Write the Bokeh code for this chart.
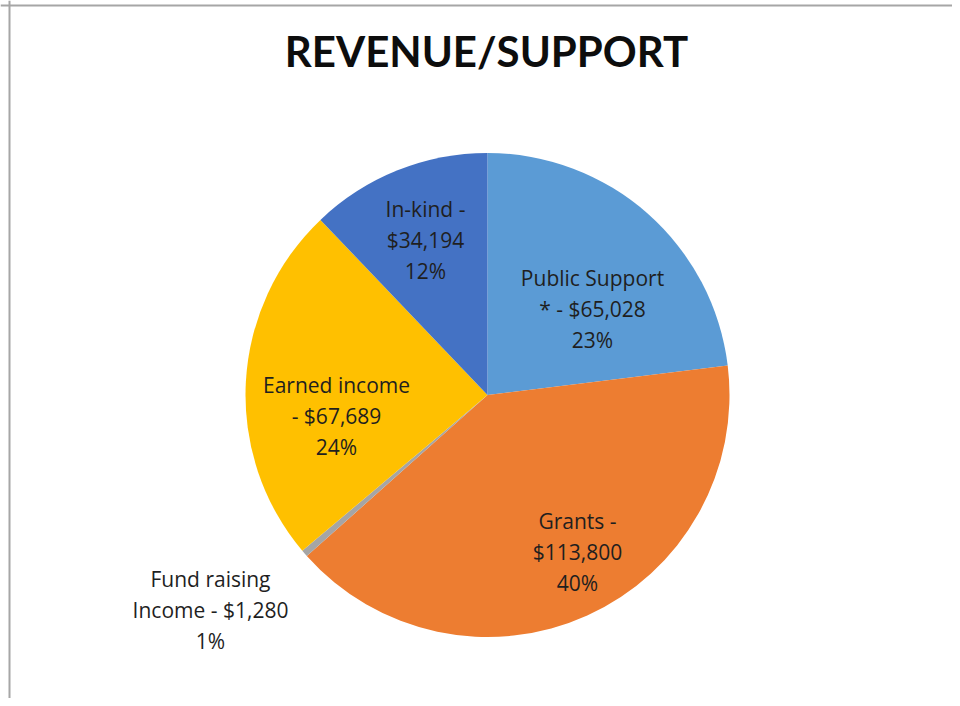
import math
from bokeh.plotting import figure
from bokeh.models import ColumnDataSource, Range1d, Span
from bokeh.core.properties import value
from bokeh.embed import file_html
from bokeh.resources import INLINE

# ---- data (clockwise from 12 o'clock) ----
categories = ["Public Support *", "Grants", "Fund raising Income", "Earned income", "In-kind"]
amounts = [65028, 113800, 1280, 67689, 34194]
pct_labels = ["23%", "40%", "1%", "24%", "12%"]
label_line1 = ["Public Support", "Grants -", "Fund raising", "Earned income", "In-kind -"]
label_line2 = ["* - $65,028", "$113,800", "Income - $1,280", "- $67,689", "$34,194"]
colors = ["#5B9BD5", "#ED7D31", "#A5A5A5", "#FFC000", "#4472C4"]

# ---- layout (pixel-like data space) ----
W, H = 952, 698
cx, cy, R = 487, 303.5, 242
# label centres, relative to pie centre (dx, dy up)
label_offsets = [(105, 86), (90, -157), (-277, -215), (-151, -21), (-62, 155)]
LINE = 31
TEXT_COLOR = "#1f1f1f"

total = float(sum(amounts))
starts, ends = [], []
acc = 0.0
for a in amounts:
    starts.append(math.pi / 2 - 2 * math.pi * acc / total)
    acc += a
    ends.append(math.pi / 2 - 2 * math.pi * acc / total)

src = ColumnDataSource(dict(
    x=[cx] * len(amounts), y=[cy] * len(amounts),
    start=starts, end=ends, color=colors, cat=categories, amt=amounts,
))

p = figure(width=W, height=H, output_backend="svg", toolbar_location=None,
           x_range=Range1d(0, W), y_range=Range1d(0, H),
           min_border=0, outline_line_color=None)
p.axis.visible = False
p.xgrid.visible = False
p.ygrid.visible = False
p.background_fill_color = "white"
p.border_fill_color = "white"

p.wedge(x="x", y="y", radius=R, start_angle="start", end_angle="end",
        direction="clock", fill_color="color", line_color=None, source=src)

# labels
lx, ly, lt = [], [], []
for i in range(len(amounts)):
    dx, dy = label_offsets[i]
    x0, y0 = cx + dx, cy + dy
    for k, t in enumerate([label_line1[i], label_line2[i], pct_labels[i]]):
        lx.append(x0)
        ly.append(y0 + LINE - k * LINE)
        lt.append(t)
p.text(x=lx, y=ly, text=lt, text_align="center", text_baseline="middle",
       text_font=value("Open Sans"), text_font_size="21px", text_color=TEXT_COLOR)

# title
p.text(x=[486], y=[648], text=["REVENUE/SUPPORT"], text_align="center",
       text_baseline="alphabetic", text_font=value("Lato"), text_font_style="bold",
       text_font_size="42px", text_color="#0d0d0d")

# chart frame (left and top edges visible)
p.add_layout(Span(location=9, dimension="height", line_color="#A6A6A6", line_width=2))
p.add_layout(Span(location=H - 5, dimension="width", line_color="#A6A6A6", line_width=2))

open("out.html", "w").write(file_html(p, INLINE))
